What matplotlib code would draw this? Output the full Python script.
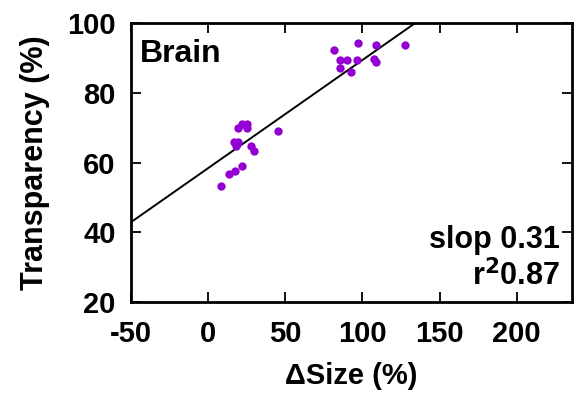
import numpy as np
import matplotlib.pyplot as plt

plt.rcParams['font.family'] = ['Liberation Sans', 'DejaVu Sans']
plt.rcParams['font.weight'] = 'bold'
plt.rcParams['axes.unicode_minus'] = False

# size change (%) and transparency (%)
size_change = [81.6, 97.2, 109.0, 127.7, 85.5, 90.3, 96.8, 107.8, 108.9, 85.5, 92.9,
               19.6, 22.2, 25.2, 25.4, 45.3, 16.8, 19.6, 17.9, 27.8, 29.6,
               22.0, 17.4, 13.6, 8.2, 18.5]
transparency = [92.3, 94.2, 93.6, 93.6, 89.4, 89.4, 89.3, 89.6, 88.9, 87.2, 86.0,
                69.8, 71.1, 71.1, 69.8, 69.1, 65.8, 65.8, 64.7, 64.9, 63.4,
                58.9, 57.5, 56.8, 53.4, 65.2]
fit_slope = 0.31
fit_intercept = 58.4
xticks = [-50, 0, 50, 100, 150, 200]
yticks = [20, 40, 60, 80, 100]

fig = plt.figure(figsize=(5.74, 4.05), dpi=100)
ax = fig.add_axes([0.228, 0.254, 0.769, 0.689])

ax.plot(size_change, transparency, 'o', color='#9400d3', ms=6, mec='none', zorder=3)
xl = np.array([-50, 240])
ax.plot(xl, fit_slope * xl + fit_intercept, color='black', lw=1.4, zorder=2)

ax.set_xlim(-50, 236)
ax.set_ylim(20, 100)
ax.set_xticks(xticks)
ax.set_yticks(yticks)
ax.tick_params(direction='in', length=7, width=1.3, top=True, right=True,
               labelsize=21)
ax.tick_params(axis='x', pad=13)
ax.tick_params(axis='y', pad=11)
for s in ax.spines.values():
    s.set_linewidth(2)

ax.set_xlabel('ΔSize (%)', fontsize=21, fontweight='bold', labelpad=10)
ax.set_ylabel('Transparency (%)', fontsize=22, fontweight='bold', labelpad=12)

ax.text(0.02, 0.86, 'Brain', transform=ax.transAxes, fontsize=23,
        fontweight='bold', ha='left', va='baseline')
ax.text(0.973, 0.194, 'slop 0.31', transform=ax.transAxes, fontsize=22,
        fontweight='bold', ha='right', va='baseline')
ax.text(0.973, 0.061, 'r$^\\mathbf{2}$0.87', transform=ax.transAxes, fontsize=22,
        fontweight='bold', ha='right', va='baseline')

fig.savefig('out.png', dpi=100)
